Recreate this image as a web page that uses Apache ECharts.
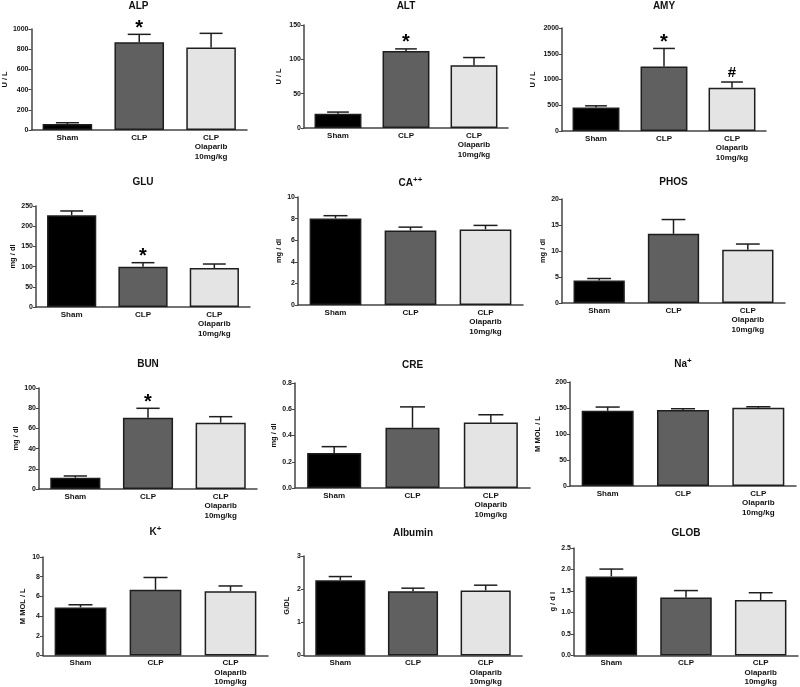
<!DOCTYPE html>
<html><head><meta charset="utf-8">
<script src="https://cdn.jsdelivr.net/npm/echarts@6/dist/echarts.min.js"></script>
<style>html,body{margin:0;padding:0;background:#fff}#c{width:800px;height:687px}</style>
</head><body><div id="c"></div>
<script>
// ---------- data ----------
const categories = ['Sham', 'CLP', 'CLP\nOlaparib\n10mg/kg'];
const panelTitles = ['ALP', 'ALT', 'AMY', 'GLU', 'CA{sup|++}', 'PHOS', 'BUN', 'CRE', 'Na{sup|+}', 'K{sup|+}', 'Albumin', 'GLOB'];
const yAxisNames = ['U / L', 'U / L', 'U / L', 'mg / dl', 'mg / dl', 'mg / dl', 'mg / dl', 'mg / dl', 'M MOL / L', 'M MOL / L', 'G/DL', 'g / d l'];
const yAxisMax = [1000, 150, 2000, 250, 10, 20, 100, 0.8, 200, 10, 3, 2.5];
const yAxisInterval = [200, 50, 500, 50, 2, 5, 20, 0.2, 50, 2, 1, 0.5];
const yLabelDecimals = [0, 0, 0, 0, 0, 0, 0, 1, 0, 0, 0, 1];

const ALP_mean = [59, 868, 818];      const ALP_sem = [13, 79, 139];      const ALP_sig = ['', '*', ''];
const ALT_mean = [20.8, 112.3, 91.5]; const ALT_sem = [2.4, 2.9, 11.1];   const ALT_sig = ['', '*', ''];
const AMY_mean = [456, 1251, 840];    const AMY_sem = [33, 352, 111];     const AMY_sig = ['', '*', '#'];
const GLU_mean = [227, 99.8, 96.5];   const GLU_sem = [10.7, 9.9, 9.9];   const GLU_sig = ['', '*', ''];
const CA_mean = [8.02, 6.9, 7.0];     const CA_sem = [0.25, 0.31, 0.37];  const CA_sig = ['', '', ''];
const PHOS_mean = [4.33, 13.3, 10.25]; const PHOS_sem = [0.38, 2.75, 1.09]; const PHOS_sig = ['', '', ''];
const BUN_mean = [11.2, 70.6, 65.7];  const BUN_sem = [1.7, 9.3, 5.9];    const BUN_sig = ['', '*', ''];
const CRE_mean = [0.267, 0.459, 0.50]; const CRE_sem = [0.048, 0.159, 0.058]; const CRE_sig = ['', '', ''];
const NA_mean = [144.7, 146, 150.5];  const NA_sem = [7.1, 2.6, 1.9];     const NA_sig = ['', '', ''];
const K_mean = [4.88, 6.67, 6.53];    const K_sem = [0.27, 1.25, 0.53];   const K_sig = ['', '', ''];
const ALB_mean = [2.27, 1.94, 1.96];  const ALB_sem = [0.11, 0.09, 0.16]; const ALB_sig = ['', '', ''];
const GLOB_mean = [1.84, 1.35, 1.29]; const GLOB_sem = [0.17, 0.16, 0.17]; const GLOB_sig = ['', '', ''];

const allMeans = [ALP_mean, ALT_mean, AMY_mean, GLU_mean, CA_mean, PHOS_mean, BUN_mean, CRE_mean, NA_mean, K_mean, ALB_mean, GLOB_mean];
const allSems = [ALP_sem, ALT_sem, AMY_sem, GLU_sem, CA_sem, PHOS_sem, BUN_sem, CRE_sem, NA_sem, K_sem, ALB_sem, GLOB_sem];
const allSigs = [ALP_sig, ALT_sig, AMY_sig, GLU_sig, CA_sig, PHOS_sig, BUN_sig, CRE_sig, NA_sig, K_sig, ALB_sig, GLOB_sig];

// ---------- layout / style ----------
const gridBoxes = [
  [30, 29, 217, 101], [304, 25, 204, 103], [562, 28, 204, 103],
  [36, 206, 214, 101], [298, 197, 225, 108], [562, 199, 223, 104],
  [39, 388, 218, 101], [295, 383, 235, 105], [570, 382, 226, 104],
  [43, 557, 225, 101], [304, 556, 218, 102], [574, 548, 224, 108]
];
const nameGaps = [21, 21, 25, 19, 14, 15, 19, 11, 28, 16, 13, 17];
const titleY = [6, 6, 6, 182, 183, 182, 364, 365, 364, 532, 533, 533];
const groupColors = ['#000000', '#606060', '#e4e4e4'];
const FONT = 'Arial, "Liberation Sans", sans-serif';
const axisColor = '#444';

const chart = echarts.init(document.getElementById('c'), null, {renderer: 'canvas'});

const grids = [], xAxes = [], yAxes = [], series = [], graphics = [];
gridBoxes.forEach((b, i) => {
  grids.push({left: b[0], top: b[1], width: b[2], height: b[3], containLabel: false});
  xAxes.push({
    type: 'category', gridIndex: i, data: categories,
    axisLine: {lineStyle: {color: axisColor, width: 1.5}},
    axisTick: {show: false},
    axisLabel: {fontFamily: FONT, fontWeight: 'bold', fontSize: 8, color: '#111', margin: 3, lineHeight: 9.5, interval: 0}
  });
  const dec = yLabelDecimals[i];
  yAxes.push({
    type: 'value', gridIndex: i, min: 0, max: yAxisMax[i], interval: yAxisInterval[i],
    name: yAxisNames[i], nameLocation: 'middle', nameGap: nameGaps[i],
    nameTextStyle: {fontFamily: FONT, fontWeight: 'bold', fontSize: 7.5, color: '#111'},
    splitLine: {show: false},
    axisLine: {show: true, lineStyle: {color: axisColor, width: 1.5}},
    axisTick: {show: true, length: 3, lineStyle: {color: axisColor, width: 1}},
    axisLabel: {fontFamily: FONT, fontWeight: 'bold', fontSize: 7, color: '#111', margin: 3,
      formatter: v => Number(v).toFixed(dec)}
  });
  series.push({
    type: 'bar', xAxisIndex: i, yAxisIndex: i, barWidth: '69%',
    data: allMeans[i].map((v, k) => ({value: v, itemStyle: {color: groupColors[k]}})),
    itemStyle: {borderColor: '#1e1e1e', borderWidth: 1.5},
    silent: true, animation: false
  });
  const sig = allSigs[i];
  series.push({
    type: 'custom', xAxisIndex: i, yAxisIndex: i, z: 5, animation: false, silent: true,
    data: allMeans[i].map((v, k) => [k, v, allSems[i][k]]),
    renderItem: (params, api) => {
      const x = api.value(0), m = api.value(1), e = api.value(2);
      const base = api.coord([x, m]);
      const top = api.coord([x, m + e]);
      const bw = api.size([1, 0])[0];
      const cap = bw * 0.16;
      const lineStyle = {stroke: '#1e1e1e', lineWidth: 1.5};
      const children = [
        {type: 'line', shape: {x1: base[0], y1: base[1], x2: top[0], y2: top[1]}, style: lineStyle},
        {type: 'line', shape: {x1: top[0] - cap, y1: top[1], x2: top[0] + cap, y2: top[1]}, style: lineStyle}
      ];
      const s = sig[params.dataIndex];
      if (s) {
        const isStar = s === '*';
        children.push({type: 'text', x: top[0], y: isStar ? top[1] + 4 : top[1] - 2,
          style: {text: s, align: 'center', verticalAlign: 'bottom', fill: '#000',
            fontFamily: FONT, fontWeight: 'bold', fontSize: isStar ? 20 : 15}});
      }
      return {type: 'group', children};
    }
  });
  graphics.push({
    type: 'text', x: b[0] + b[2] / 2, y: titleY[i], silent: true,
    style: {text: panelTitles[i], align: 'center', verticalAlign: 'middle', fill: '#111',
      fontFamily: FONT, fontWeight: 'bold', fontSize: 10,
      rich: {sup: {fontFamily: FONT, fontWeight: 'bold', fontSize: 8, verticalAlign: 'top', padding: [0, 0, 6, 0], fill: '#111'}}}
  });
});

chart.setOption({
  backgroundColor: '#ffffff',
  animation: false,
  grid: grids, xAxis: xAxes, yAxis: yAxes, series: series, graphic: graphics
});
</script></body></html>
